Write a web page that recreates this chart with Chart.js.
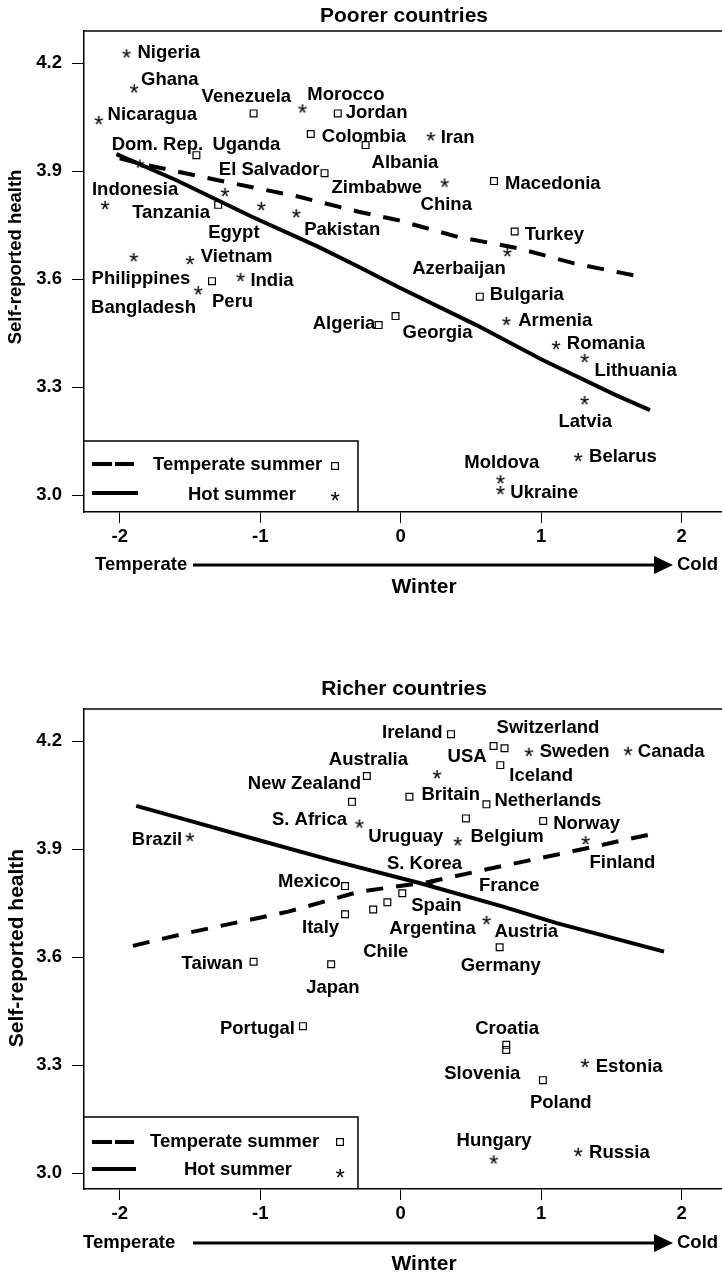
<!DOCTYPE html>
<html><head><meta charset="utf-8">
<script src="https://cdn.jsdelivr.net/npm/chart.js@4.4.0/dist/chart.umd.min.js"></script>
<style>
html,body{margin:0;padding:0;background:#fff;}
#wrap{position:relative;width:722px;height:1275px;overflow:hidden;background:#fff;}
canvas{position:absolute;left:0;}
</style></head><body>
<div id="wrap">
<canvas id="c1" width="740" height="612" style="top:0;width:740px;height:612px"></canvas>
<canvas id="c2" width="740" height="635" style="top:640px;width:740px;height:635px"></canvas>
</div>
<script>
// ---------- tick labels ----------
const xTicks = [-2, -1, 0, 1, 2];
const yTicks = [3.0, 3.3, 3.6, 3.9, 4.2];

// ---------- Poorer countries ----------
const poorHotNames = ['Nigeria','Ghana','Nicaragua','Morocco','Iran','Dom. Rep.','Indonesia','El Salvador','Egypt','Pakistan','Philippines','Vietnam','India','Bangladesh','China','Azerbaijan','Armenia','Romania','Lithuania','Latvia','Belarus','Moldova','Ukraine'];
const poorHotWinter = [-1.952,-1.898,-2.150,-0.700,0.213,-1.858,-2.105,-1.252,-0.993,-0.744,-1.901,-1.501,-1.141,-1.442,0.312,0.758,0.751,1.104,1.308,1.308,1.262,0.709,0.709];
const poorHotHealth = [4.227,4.130,4.042,4.074,3.997,3.921,3.806,3.842,3.803,3.783,3.661,3.653,3.606,3.569,3.868,3.675,3.484,3.417,3.381,3.264,3.106,3.044,3.014];

const poorTempNames = ['Venezuela','Jordan','Colombia','Albania','Uganda','Zimbabwe','Tanzania','Peru','Macedonia','Turkey','Bulgaria','Algeria','Georgia'];
const poorTempWinter = [-1.047,-0.448,-0.640,-0.250,-1.454,-0.542,-1.299,-1.343,0.664,0.811,0.563,-0.157,-0.037];
const poorTempHealth = [4.060,4.060,4.003,3.972,3.944,3.894,3.806,3.594,3.872,3.732,3.551,3.472,3.497];

const poorHotLineWinter = [-2.023,-1.600,-1.059,-0.589,-0.300,-0.025,0.539,1.010,1.527,1.774];
const poorHotLineHealth = [3.947,3.875,3.773,3.690,3.634,3.579,3.472,3.375,3.278,3.236];
const poorTempLineWinter = [-2.000,-1.835,-1.247,-0.730,-0.300,-0.025,0.405,0.829,1.228,1.724];
const poorTempLineHealth = [3.935,3.919,3.870,3.829,3.787,3.764,3.717,3.686,3.644,3.605];

// ---------- Richer countries ----------
const richHotNames = ['Brazil','Uruguay','Australia','Sweden','Canada','Belgium','Finland','France','Austria','Estonia','Hungary','Russia'];
const richHotWinter = [-1.501,-0.295,0.257,0.911,1.616,0.405,1.315,0.215,0.610,1.310,0.661,1.262];
const richHotHealth = [3.934,3.971,4.108,4.170,4.173,3.922,3.925,3.805,3.703,3.306,3.038,3.059];

const richTempNames = ['Ireland','USA','Switzerland','Iceland','New Zealand','S. Africa','Britain','Netherlands','S. Korea','Norway','Mexico','Spain','Argentina','Chile','Italy','Germany','Taiwan','Japan','Portugal','Croatia','Slovenia','Poland'];
const richTempWinter = [0.358,0.661,0.739,0.709,-0.241,-0.347,0.062,0.610,0.464,1.014,-0.396,0.011,-0.095,-0.196,-0.396,0.704,-1.047,-0.495,-0.696,0.751,0.751,1.012];
const richTempHealth = [4.219,4.186,4.180,4.133,4.103,4.031,4.045,4.024,3.985,3.978,3.797,3.777,3.752,3.732,3.719,3.627,3.587,3.580,3.408,3.356,3.342,3.258];

const richHotLineWinter = [-1.882,-1.435,-1.059,-0.495,0.140,0.728,1.111,1.874];
const richHotLineHealth = [4.020,3.971,3.930,3.869,3.805,3.740,3.694,3.615];
const richTempLineWinter = [-1.906,-1.529,-0.800,-0.300,0.208,0.640,1.204,1.839];
const richTempLineHealth = [3.631,3.666,3.726,3.781,3.809,3.846,3.892,3.946];

// ---------- label placement (pixel offsets from each marker) ----------
const poorHotLabelDx = [11,7,9,5,10,-28,-13,-6,-53,8,-42,11,10,-107,-24,-95,12,11,10,-26,11,-36,10];
const poorHotLabelDy = [0,-8,-5,-13,2,-19,-15,-22,27,17,22,-3,4,18,22,17,0,-1,13,22,0,-16,3];
const poorTempLabelDx = [-52,8,11,6,16,7,-86,0,11,10,10,-66,7];
const poorTempLabelDy = [-16,0,3,18,-10,15,8,21,3,3,-2,-1,17];
const richHotLabelDx = [-58,9,-108,11,10,13,4,48,8,11,-37,11];
const richHotLabelDy = [3,13,-14,0,1,-4,23,3,12,4,-18,1];
const richTempLabelDx = [-69,-46,-8,9,-119,-80,12,8,-79,10,-67,9,2,-10,-43,-39,-72,-25,-83,-31,-62,-13];
const richTempLabelDy = [-1,11,-20,11,8,18,-2,-3,45,3,-4,13,27,42,14,19,2,24,3,-16,24,23];

// ---------- drawing ----------
const FONT = '"Liberation Sans", Arial, Helvetica, sans-serif';
const INK = '#000';

function makeStar(){
  const S = 14;
  const c = document.createElement('canvas'); c.width = S; c.height = S;
  const g = c.getContext('2d');
  g.font = 'normal 24px ' + FONT;
  g.fillStyle = INK;
  g.textAlign = 'left'; g.textBaseline = 'alphabetic';
  const m = g.measureText('*');
  const w = m.actualBoundingBoxLeft + m.actualBoundingBoxRight;
  const h = m.actualBoundingBoxAscent + m.actualBoundingBoxDescent;
  g.fillText('*', (S - w) / 2 + m.actualBoundingBoxLeft, (S - h) / 2 + m.actualBoundingBoxAscent);
  return c;
}
const STAR = makeStar();

function pts(xs, ys){ return xs.map((v, i) => ({x: v, y: ys[i]})); }

function txt(ctx, s, x, y, size, align){
  ctx.font = 'bold ' + size + 'px ' + FONT;
  ctx.fillStyle = INK;
  ctx.textAlign = align || 'left';
  ctx.textBaseline = 'middle';
  ctx.fillText(s, x, y);
}

function buildPanel(p){
  const decor = {
    id: 'decor',
    afterDraw(chart){
      const ctx = chart.ctx, a = chart.chartArea;
      const sx = chart.scales.x, sy = chart.scales.y;
      ctx.save();
      // top frame line
      ctx.strokeStyle = INK; ctx.lineWidth = 1.5;
      ctx.beginPath(); ctx.moveTo(a.left, a.top); ctx.lineTo(a.right, a.top); ctx.stroke();
      // country labels
      p.groups.forEach(g => {
        g.names.forEach((n, i) => {
          const px = sx.getPixelForValue(g.x[i]), py = sy.getPixelForValue(g.y[i]);
          txt(ctx, n, px + g.dx[i], py + g.dy[i], 18.5, 'left');
        });
      });
      // title
      txt(ctx, p.title, p.L.titleX, p.L.titleY, 21, 'center');
      // y-axis title
      ctx.save();
      ctx.translate(p.L.yTitleX, p.L.yTitleY); ctx.rotate(-Math.PI / 2);
      txt(ctx, 'Self-reported health', 0, 0, p.L.yTitleSize, 'center');
      ctx.restore();
      // legend box
      const lg = p.L.legend;
      ctx.strokeStyle = INK; ctx.lineWidth = 1.5;
      ctx.beginPath();
      ctx.moveTo(a.left, lg.top); ctx.lineTo(lg.right, lg.top); ctx.lineTo(lg.right, a.bottom);
      ctx.stroke();
      ctx.lineWidth = 4; ctx.lineCap = 'butt';
      ctx.setLineDash([20, 3]);
      ctx.beginPath(); ctx.moveTo(92, lg.dashY); ctx.lineTo(134, lg.dashY); ctx.stroke();
      ctx.setLineDash([]);
      ctx.beginPath(); ctx.moveTo(92, lg.solidY); ctx.lineTo(lg.solidEnd, lg.solidY); ctx.stroke();
      txt(ctx, 'Temperate summer', lg.tempTextX, lg.tempTextY, 18.5, 'left');
      txt(ctx, 'Hot summer', lg.hotTextX, lg.hotTextY, 18.5, 'left');
      ctx.lineWidth = 1.2;
      ctx.strokeRect(lg.sqX - 3.4, lg.sqY - 3.4, 6.8, 6.8);
      ctx.drawImage(STAR, lg.starX - STAR.width / 2, lg.starY - STAR.height / 2);
      // winter axis annotation
      const nt = p.L.note;
      txt(ctx, 'Temperate', nt.tempX, nt.y, 18.5, 'left');
      txt(ctx, 'Cold', 677, nt.y, 18.5, 'left');
      ctx.lineWidth = 3;
      ctx.beginPath(); ctx.moveTo(193, nt.y); ctx.lineTo(656, nt.y); ctx.stroke();
      ctx.beginPath(); ctx.moveTo(654, nt.y - 9); ctx.lineTo(673, nt.y); ctx.lineTo(654, nt.y + 9); ctx.closePath();
      ctx.fillStyle = INK; ctx.fill();
      txt(ctx, 'Winter', 424, nt.winterY, 21, 'center');
      ctx.restore();
    }
  };

  const tickFont = {family: FONT, size: 18.5, weight: 'bold'};
  return new Chart(document.getElementById(p.canvas), {
    type: 'scatter',
    data: {
      datasets: [
        {label: 'Hot summer', data: pts(p.groups[0].x, p.groups[0].y), pointStyle: STAR, pointRadius: 5, order: 0},
        {label: 'Temperate summer', data: pts(p.groups[1].x, p.groups[1].y), pointStyle: 'rect', pointRadius: 4.8,
         borderColor: INK, borderWidth: 1.2, backgroundColor: 'rgba(0,0,0,0)', order: 0},
        {label: 'Hot summer fit', data: pts(p.hotLine[0], p.hotLine[1]), showLine: true, pointRadius: 0,
         borderColor: INK, borderWidth: 4, fill: false, order: 1},
        {label: 'Temperate summer fit', data: pts(p.tempLine[0], p.tempLine[1]), showLine: true, pointRadius: 0,
         borderColor: INK, borderWidth: 4, borderDash: [17, 13], fill: false, order: 1}
      ]
    },
    options: {
      responsive: false, animation: false, devicePixelRatio: 1,
      layout: {padding: {top: p.L.padTop, left: 0, right: 0, bottom: 0}},
      plugins: {legend: {display: false}, tooltip: {enabled: false}, title: {display: false}},
      scales: {
        x: {
          type: 'linear', min: -2.254, max: 2.372,
          afterBuildTicks: s => { s.ticks = xTicks.map(v => ({value: v})); },
          afterFit: s => { s.height = p.L.xAxisH; },
          ticks: {callback: v => String(v), font: tickFont, color: INK, padding: 3, maxRotation: 0},
          grid: {drawOnChartArea: false, drawTicks: true, tickLength: 11, color: INK, lineWidth: 1},
          border: {display: true, color: INK, width: 1.5}
        },
        y: {
          type: 'linear', min: p.L.yMin, max: 4.2889,
          afterBuildTicks: s => { s.ticks = yTicks.map(v => ({value: v})); },
          afterFit: s => { s.width = 84; },
          ticks: {callback: v => v.toFixed(1), font: tickFont, color: INK, padding: 10},
          grid: {drawOnChartArea: false, drawTicks: true, tickLength: 12, color: INK, lineWidth: 1},
          border: {display: true, color: INK, width: 1.5}
        }
      }
    },
    plugins: [decor]
  });
}

buildPanel({
  canvas: 'c1', title: 'Poorer countries',
  groups: [
    {names: poorHotNames, x: poorHotWinter, y: poorHotHealth, dx: poorHotLabelDx, dy: poorHotLabelDy},
    {names: poorTempNames, x: poorTempWinter, y: poorTempHealth, dx: poorTempLabelDx, dy: poorTempLabelDy}
  ],
  hotLine: [poorHotLineWinter, poorHotLineHealth],
  tempLine: [poorTempLineWinter, poorTempLineHealth],
  L: {
    padTop: 31, xAxisH: 100, yMin: 2.9528,
    titleX: 404, titleY: 16,
    yTitleX: 16, yTitleY: 257, yTitleSize: 18.5,
    legend: {top: 441, right: 358, dashY: 464, solidY: 493, solidEnd: 138,
             tempTextX: 153, tempTextY: 465, hotTextX: 188, hotTextY: 495,
             sqX: 335, sqY: 466, starX: 335, starY: 496},
    note: {tempX: 95, y: 565, winterY: 587}
  }
});

buildPanel({
  canvas: 'c2', title: 'Richer countries',
  groups: [
    {names: richHotNames, x: richHotWinter, y: richHotHealth, dx: richHotLabelDx, dy: richHotLabelDy},
    {names: richTempNames, x: richTempWinter, y: richTempHealth, dx: richTempLabelDx, dy: richTempLabelDy}
  ],
  hotLine: [richHotLineWinter, richHotLineHealth],
  tempLine: [richTempLineWinter, richTempLineHealth],
  L: {
    padTop: 69, xAxisH: 86, yMin: 2.9556,
    titleX: 404, titleY: 49,
    yTitleX: 17, yTitleY: 308, yTitleSize: 21,
    legend: {top: 477, right: 358, dashY: 502, solidY: 529, solidEnd: 136,
             tempTextX: 150, tempTextY: 502, hotTextX: 184, hotTextY: 530,
             sqX: 340, sqY: 502, starX: 340, starY: 533},
    note: {tempX: 83, y: 603, winterY: 624}
  }
});
</script>
</body></html>
